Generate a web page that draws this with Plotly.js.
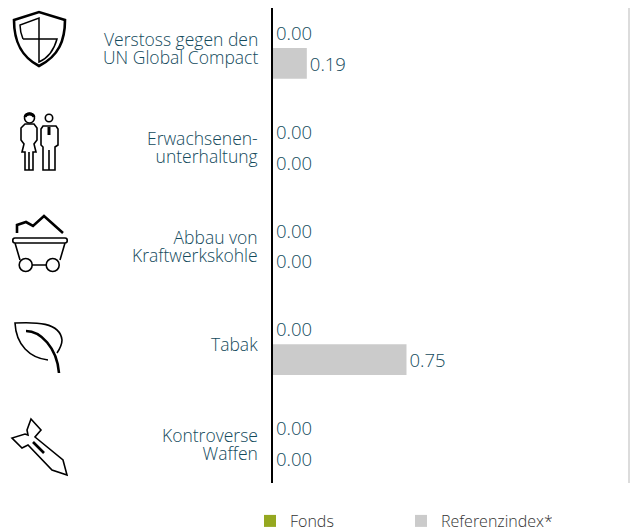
<!DOCTYPE html>
<html><head><meta charset="utf-8">
<script src="https://cdn.plot.ly/plotly-3.0.1.min.js"></script>
<style>html,body{margin:0;padding:0;background:#fff;overflow:hidden}#c{width:631px;height:529px}</style>
</head><body><div id="c"></div>
<script>
const categories = ["Verstoss gegen den<br>UN Global Compact","Erwachsenen-<br>unterhaltung","Abbau von<br>Kraftwerkskohle","Tabak","Kontroverse<br>Waffen"];
const fonds = [0,0,0,0,0];
const referenz = [0.19,0,0,0.75,0];
const seriesNames = ["Fonds","Referenzindex*"];

const W=631,H=529,L=273,T=8,R=629,B=483;
const TEXT="#134a5c", FONT='"Open Sans", sans-serif';
const ids=categories.map((_,i)=>i);

const circle=(x,y,r)=>{const k=r*0.5523;return `M${x-r} ${y} C${x-r} ${y-k} ${x-k} ${y-r} ${x} ${y-r} C${x+k} ${y-r} ${x+r} ${y-k} ${x+r} ${y} C${x+r} ${y+k} ${x+k} ${y+r} ${x} ${y+r} C${x-k} ${y+r} ${x-r} ${y+k} ${x-r} ${y} Z`;};
// decorative icons, outlines in page pixels
const icons=[
 {w:2.6,d:"M14 20 L39 12 L65 20 C65 40 59 56 39 66 C20 56 14 40 14 20 Z"},
 {w:1.5,d:"M23 39 C21 34 20 30 20 25 L39 18 L39 62 C48 58 54 50 57 39 L23 39"},
 {w:1.6,d:circle(29.5,118,5)},
 {w:3,d:"M25 117 C26 113 33 113 34 117"},
 {w:1.6,d:"M25 124 L34 124 L37 128 L37 140 L34 144 L36 152 L33 152 L33 170 L25 170 L25 152 L22 152 L24 144 L21 140 L21 128 Z M29 152 L29 170"},
 {w:1.6,d:circle(49,118,3.7)},
 {w:1.6,d:"M43 126 L56 126 L58 129 L58 145 L55 147 L55 170 L43 170 L43 147 L41 145 L41 129 Z M49 150 L49 170"},
 {w:3,d:"M49 127 L49 135"},
 {w:2.6,d:"M17 233 L17 225 L26 222 L33 226 L44 216 L63 233"},
 {w:1.6,d:"M15 238 L65 238 C68 238 68 243 65 243 L15 243 C12 243 12 238 15 238 Z M15 243 L20 260 M65 243 L60 260 M32 265 L46 265"},
 {w:1.6,d:circle(25.7,265,6.5)},
 {w:1.6,d:circle(52.7,265,6.5)},
 {w:1.6,d:"M48 360 C30 358 16 345 15 323 C35 322 60 322 62 340 C62 345 59 350 57 353"},
 {w:2.6,d:"M26 331 C40 331 57 347 59 373"},
 {w:1.6,d:"M31 419 L41 430 L35 437 L63 460 L67 475 L52 470 L28 445 L22 448 L12 438 L25 434 L28 435 L27 430 Z"},
 {w:2.6,d:"M33 442 L44 453"}
];
const toLocal=d=>d.replace(/([MLC])\s*([^MLCZ]*)/g,(m,c,args)=>{
  const n=args.trim().split(/\s+/).map(Number), o=[];
  for(let i=0;i<n.length;i+=2) o.push((n[i]-L)+" "+(T-n[i+1]));
  return c+o.join(" ")+" ";
});
const shapes=icons.map(ic=>({type:"path",xref:"paper",yref:"paper",xsizemode:"pixel",ysizemode:"pixel",xanchor:0,yanchor:1,path:toLocal(ic.d),line:{color:"#000",width:ic.w},fillcolor:"rgba(0,0,0,0)"}));
shapes.push({type:"line",xref:"paper",yref:"paper",x0:1,x1:1,y0:0,y1:1,line:{color:"#dcdcdc",width:2}});

const labelSize=17.5;
const annotations=categories.map((c,i)=>({xref:"paper",yref:"y",x:0,y:i,xshift:-13,yshift:c.includes("<br>")?-1:0,text:c,align:"right",showarrow:false,xanchor:"right",yanchor:"middle",font:{family:FONT,size:labelSize,weight:300,color:TEXT}}));

const bar=(name,vals,color)=>({type:"bar",orientation:"h",name,y:ids,x:vals,marker:{color},text:vals.map(v=>v.toFixed(2)),textposition:"outside",cliponaxis:false,textfont:{family:FONT,size:18.5,weight:300,color:TEXT},hoverinfo:"skip"});

Plotly.newPlot("c",[bar(seriesNames[0],fonds,"#95a820"),bar(seriesNames[1],referenz,"#cbcbcb")],{
 width:W,height:H,margin:{l:L,t:T,r:W-R,b:H-B,pad:0},paper_bgcolor:"#fff",plot_bgcolor:"#fff",
 barmode:"group",bargap:0.377,bargroupgap:0,showlegend:true,
 xaxis:{range:[0,(R-L)/178],visible:false,fixedrange:true},
 yaxis:{range:[4.405,-0.405],showticklabels:false,ticks:"",showgrid:false,zeroline:false,showline:true,linecolor:"#000",linewidth:2,fixedrange:true},
 legend:{orientation:"h",xref:"container",yref:"container",x:250/W,xanchor:"left",y:(H-504)/H,yanchor:"top",entrywidth:106,entrywidthmode:"pixels",font:{family:FONT,size:16,weight:300,color:"#333"},bgcolor:"rgba(0,0,0,0)"},
 shapes,annotations
},{displayModeBar:false,staticPlot:true}).then(gd=>{
  // tighten multi-line labels to the reference's 18px leading; dy is measured from the text's y
  const step=18, shift=(labelSize*1.3-step)/2;
  gd.querySelectorAll(".annotation-text").forEach(t=>{
    const ls=t.querySelectorAll("tspan.line");
    if(ls.length===2){ls[0].setAttribute("dy",shift+"px");ls[1].setAttribute("dy",(shift+step)+"px");}
  });
});
</script></body></html>
